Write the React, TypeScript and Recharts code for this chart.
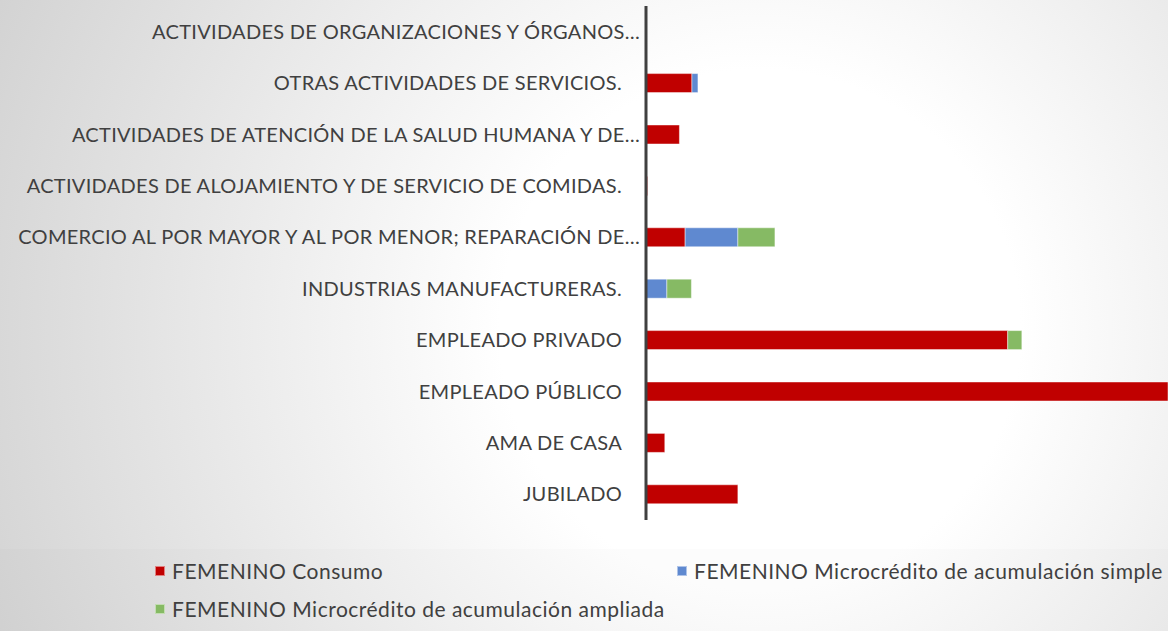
import React from 'react';
import { BarChart, Bar, XAxis, YAxis } from 'recharts';

const categories = [
  'ACTIVIDADES DE ORGANIZACIONES Y ÓRGANOS…',
  'OTRAS ACTIVIDADES DE SERVICIOS.',
  'ACTIVIDADES DE ATENCIÓN DE LA SALUD HUMANA Y DE…',
  'ACTIVIDADES DE ALOJAMIENTO Y DE SERVICIO DE COMIDAS.',
  'COMERCIO AL POR MAYOR Y AL POR MENOR; REPARACIÓN DE…',
  'INDUSTRIAS MANUFACTURERAS.',
  'EMPLEADO PRIVADO',
  'EMPLEADO PÚBLICO',
  'AMA DE CASA',
  'JUBILADO',
];

const consumo = [0, 8.8, 6.4, 0.3, 7.5, 0, 69.3, 100, 3.6, 17.6];
const acumSimple = [0, 1.15, 0, 0, 10.1, 4.0, 0, 0, 0, 0];
const acumAmpliada = [0, 0, 0, 0, 7.1, 4.7, 2.7, 0, 0, 0];

const series = [
  { key: 'consumo', name: 'FEMENINO Consumo', color: '#C00000' },
  { key: 'simple', name: 'FEMENINO Microcrédito de acumulación simple', color: '#5F89D0' },
  { key: 'ampliada', name: 'FEMENINO Microcrédito de acumulación ampliada', color: '#86BA64' },
];

const data = categories.map((name, i) => ({
  name,
  consumo: consumo[i],
  simple: acumSimple[i],
  ampliada: acumAmpliada[i],
}));

const FONT = 'Lato, "Open Sans", sans-serif';

const CategoryTick = (props: any) => {
  const { x, y, payload } = props;
  const label: string = payload.value;
  const cut = label.endsWith('…');
  return (
    <text
      x={cut ? x + 2 : x - 16}
      y={y}
      dy={7}
      textAnchor="end"
      fill="#404040"
      fontSize={20}
      letterSpacing={0.3}
      fontFamily={FONT}
    >
      {label}
    </text>
  );
};

const LegendItem = ({ color, label, left, top }: { color: string; label: string; left: number; top: number }) => (
  <div style={{ position: 'absolute', left, top, display: 'flex', alignItems: 'center' }}>
    <span style={{ width: 10, height: 10, background: color, border: '1px solid rgba(255,255,255,0.5)', boxSizing: 'border-box', marginRight: 7 }} />
    <span style={{ fontSize: 21, letterSpacing: 0.5, color: '#404040', fontFamily: FONT, whiteSpace: 'nowrap' }}>{label}</span>
  </div>
);

export default function App() {
  return (
    <div
      style={{
        position: 'absolute',
        left: 0,
        top: 0,
        width: 1168,
        height: 631,
        overflow: 'hidden',
        background: 'radial-gradient(circle at 760px 330px, #ffffff 0px, #ffffff 260px, #d2d2d2 840px)',
      }}
    >
      <div style={{ position: 'absolute', left: 0, top: 549, width: 1168, height: 82, background: 'rgba(0,0,0,0.01)' }} />
      <BarChart
        width={1168}
        height={549}
        data={data}
        layout="vertical"
        margin={{ top: 6, right: 0, bottom: 29, left: 0 }}
        barCategoryGap="31.5%"
      >
        <XAxis type="number" domain={[0, 100]} hide allowDataOverflow />
        <YAxis
          type="category"
          dataKey="name"
          width={646}
          axisLine={{ stroke: '#404040', strokeWidth: 3 }}
          tickLine={false}
          tick={<CategoryTick />}
          interval={0}
        />
        {series.map(s => (
          <Bar
            key={s.key}
            dataKey={s.key}
            name={s.name}
            stackId="a"
            fill={s.color}
            stroke="rgba(255,255,255,0.45)"
            strokeWidth={1}
            isAnimationActive={false}
          />
        ))}
      </BarChart>
      <LegendItem color={series[0].color} label={series[0].name} left={155} top={558} />
      <LegendItem color={series[1].color} label={series[1].name} left={677} top={558} />
      <LegendItem color={series[2].color} label={series[2].name} left={155} top={596} />
    </div>
  );
}
